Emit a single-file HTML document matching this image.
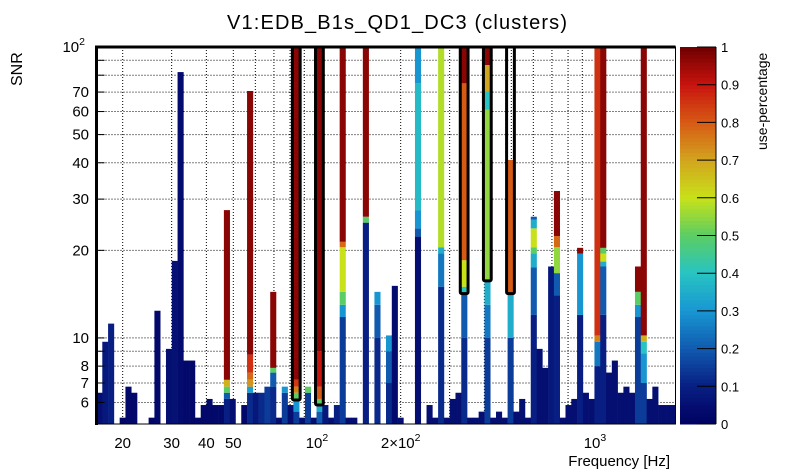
<!DOCTYPE html>
<html><head><meta charset="utf-8"><style>
html,body{margin:0;padding:0;background:#fff;}
svg{display:block;font-family:"Liberation Sans",Arial,sans-serif;}
</style></head><body>
<svg id="chart" width="805" height="472" viewBox="0 0 805 472" xmlns="http://www.w3.org/2000/svg">
<rect x="0" y="0" width="805" height="472" fill="#fff"/>
<text x="397" y="29" font-size="20" text-anchor="middle" textLength="340">V1:EDB_B1s_QD1_DC3 (clusters)</text>
<g id="grid"></g>
<g id="bars"></g>
<g id="boxes"></g>
<g id="axes"></g>
<text transform="translate(22,86) rotate(-90)" font-size="16" text-anchor="start">SNR</text>
<text x="670" y="466" font-size="15" text-anchor="end">Frequency [Hz]</text>
<g id="cbar"></g>
<text transform="translate(767,150) rotate(-90)" font-size="14" text-anchor="start">use-percentage</text>
</svg>
<script>
// ---- data ----
const freqMin = 16.1, freqMax = 1948, nBins = 100;
const snrMin = 5.06, snrMax = 100;
// per bin: stacked cells from bottom, [snrUpper, usePercentage]
const binSegs = [
[[6.48,.05]],[[9.7,.08]],[[11.2,.1]],[],[[5.32,.02]],[[6.8,.03]],[[6.48,.03]],[],[],[[5.32,.02]],
[[12.4,.03]],[],[[9.17,.05]],[[18.4,.06]],[[82,.04]],[[8.36,.03]],[[8.36,.03]],[[5.32,.03]],[[5.88,.03]],[[6.17,.03]],
[[5.88,.03]],[[5.88,.03]],[[6.17,.1],[6.48,.2],[6.8,.5],[7.18,.68],[27.5,.97]],[[6.17,.05]],[],[[5.88,.03]],
[[6.48,.12],[6.8,.32],[7.18,.72],[7.6,.78],[8.76,.86],[70.6,.97]],[[6.48,.08]],[[6.48,.12]],[[6.8,.15]],
[[6.8,.12],[7.6,.2],[7.89,.5],[14.4,.97]],[[5.32,.05]],[[6.48,.15],[6.8,.3]],[[5.88,.05]],
[[5.58,.15],[6.17,.3],[6.48,.5],[6.8,.75],[7.18,.85],[100,.97]],[[5.32,.05]],[[6.48,.15],[6.8,.5]],[[5.32,.05]],
[[5.58,.2],[5.88,.35],[6.17,.5],[6.8,.8],[9,.9],[100,.97]],[[5.88,.08]],
[[5.32,.05]],[[5.88,.1]],[[11.8,.15],[13.0,.3],[14.4,.5],[20.5,.6],[21.4,.78],[100,.97]],[[5.32,.05]],[[5.32,.05]],[],
[[24.9,.1],[26.1,.5],[100,.97]],[],[[10,.12],[13,.2],[14.4,.3]],[],
[[7,.12],[9,.2],[10.2,.3]],[[15.1,.04]],[[5.32,.05]],[],[],[[22.3,.05],[23.8,.2],[27.5,.3],[75,.38],[100,.3]],[],[[5.88,.05]],[[5.32,.05]],[[15,.12],[19.5,.25],[20.5,.35],[100,.58]],
[[5.32,.05]],[[6.17,.05]],[[6.48,.05]],[[10,.12],[14.2,.2],[15,.4],[18.5,.6],[75,.8],[100,.97]],[[5.32,.05]],[[5.32,.05]],[[5.58,.05]],
[[10,.15],[13,.25],[15.8,.35],[60.8,.55],[70.3,.4],[86.7,.7],[100,.97]],[[5.32,.05]],[[5.58,.05]],
[[5.32,.05]],[[10,.15],[14.2,.35],[40.9,.8]],[[5.58,.05]],[[6.17,.05]],[[5.32,.05]],
[[12,.1],[17.5,.2],[19.5,.35],[20.5,.5],[23.8,.6],[25.5,.35],[26.1,.2]],[[9.17,.05]],[[7.89,.05]],[[17.6,.08]],
[[14,.1],[16.7,.2],[20.5,.55],[22.4,.78],[32,.97]],
[[5.32,.05]],[[5.88,.05]],[[6.17,.05]],[[12,.1],[19.5,.3],[20.4,.97]],[[6.48,.05]],[[6.17,.05]],
[[8,.1],[9.7,.25],[10.2,.75],[100,.86]],[[12,.1],[17.6,.2],[18.3,.35],[19.5,.6],[20.4,.5],[100,.97]],
[[7.6,.05]],[[8.36,.05]],
[[6.48,.05]],[[6.8,.05]],[[6.48,.05]],[[11.8,.15],[13,.3],[14.4,.5],[17.6,.97]],
[[7,.15],[8.86,.3],[9.7,.4],[10.2,.68],[100,.97]],[[6.17,.05]],[[6.8,.05]],[[5.88,.05]],[[5.88,.05]],[[5.88,.05]]
];
const boxBins = [34, 38, 63, 67, 71];
const boxBottoms = [6.12, 5.88, 14.2, 15.7, 14.2];
const xGridVals = [20,30,40,50,60,70,80,90,100,200,300,400,500,600,700,800,900,1000];
const xLabelVals = [20,30,40,50,100,200,1000];
const xLabelText = ["20","30","40","50","10|2","2×10|2","10|3"];
const yGridVals = [6,7,8,9,10,20,30,40,50,60,70,80,90];
const yLabelVals = [6,7,8,10,20,30,40,50,60,70,100];
const yLabelText = ["6","7","8","10","20","30","40","50","60","70","10|2"];
const cbarTicks = [0,0.1,0.2,0.3,0.4,0.5,0.6,0.7,0.8,0.9,1];
const cbarLabels = ["0","0.1","0.2","0.3","0.4","0.5","0.6","0.7","0.8","0.9","1"];

// ---- geometry ----
const X0 = 96.5, X1 = 675.5, Y0 = 47, Y1 = 424;
const NS = "http://www.w3.org/2000/svg";
const lx0 = Math.log10(freqMin), lx1 = Math.log10(freqMax);
const ly0 = Math.log10(snrMin), ly1 = Math.log10(snrMax);
function xScale(f){ return X0 + (Math.log10(f)-lx0)/(lx1-lx0)*(X1-X0); }
function yScale(v){ return Y1 - (Math.log10(v)-ly0)/(ly1-ly0)*(Y1-Y0); }
function binX(k){ return xScale(Math.pow(10, lx0 + k*(lx1-lx0)/nBins)); }
const cmap = [[0,[0,0,96]],[0.1,[8,30,130]],[0.2,[16,90,175]],[0.3,[24,150,210]],[0.4,[40,195,195]],[0.5,[90,205,100]],[0.6,[200,225,25]],[0.7,[210,165,30]],[0.8,[215,90,20]],[0.9,[200,20,15]],[1,[112,0,0]]];
function color(u){
  for(let i=1;i<cmap.length;i++){ if(u<=cmap[i][0]){ const a=cmap[i-1],b=cmap[i],t=(u-a[0])/(b[0]-a[0]);
    return 'rgb('+a[1].map((c,j)=>Math.round(c+(b[1][j]-c)*t)).join(',')+')'; } }
  return 'rgb(112,0,0)';
}
function mk(tag, attrs, parent){ const e=document.createElementNS(NS,tag); for(const k in attrs) e.setAttribute(k,attrs[k]); parent.appendChild(e); return e; }
function supText(parent, x, y, str, anchor, size){
  const t = mk('text',{x:x,y:y,'font-size':size,'text-anchor':anchor},parent);
  const p = str.split('|');
  t.appendChild(document.createTextNode(p[0]));
  if(p[1]){ const s=mk('tspan',{dy:-7,'font-size':size*0.7},t); s.textContent=p[1]; }
  return t;
}

// grid
const grid = document.getElementById('grid');
xGridVals.forEach(f=>{ const x=xScale(f);
  const l=mk('line',{x1:x,x2:x,y1:Y0,y2:Y1,stroke:'#000','stroke-width':1,'stroke-dasharray':'1,2'},grid);
  
   });
yGridVals.forEach(v=>{ const y=yScale(v);
  const l=mk('line',{x1:X0,x2:X1,y1:y,y2:y,stroke:'#000','stroke-width':1,'stroke-dasharray':'1,2'},grid);
  
   });

// bars
const bars = document.getElementById('bars');
binSegs.forEach((segs,k)=>{
  if(!segs.length) return;
  const g = mk('g',{},bars);
  
  
  const xa = binX(k), xb = binX(k+1);
  let lo = snrMin;
  segs.forEach(s=>{
    const ya = yScale(Math.min(s[0],snrMax)), yb = yScale(lo);
    const r = mk('rect',{x:xa,y:ya,width:xb-xa+0.3,height:Math.max(0,yb-ya),fill:color(s[1])},g);
    
    
    lo = s[0];
  });
});

// boxes
const boxes = document.getElementById('boxes');
boxBins.forEach((k,i)=>{
  const xa = binX(k)-1, xb = binX(k+1)+1;
  const ya = yScale(snrMax), yb = yScale(boxBottoms[i]);
  const r = mk('rect',{x:xa,y:ya,width:xb-xa,height:yb-ya,fill:'none',stroke:'#000','stroke-width':3,rx:1.5},boxes);
  
  
});

// axes
const axes = document.getElementById('axes');
mk('rect',{x:X0,y:Y0,width:X1-X0,height:Y1-Y0,fill:'none',stroke:'#000','stroke-width':1},axes);
mk('line',{x1:X0,x2:X1,y1:Y0,y2:Y0,stroke:'#000','stroke-width':3},axes);
mk('line',{x1:X0,x2:X0,y1:Y0-1.5,y2:Y1+1,stroke:'#000','stroke-width':3},axes);
yGridVals.concat([100]).forEach(v=>{ const y=yScale(v); mk('line',{x1:X0,x2:X0+8,y1:y,y2:y,stroke:'#000'},axes); });
xLabelVals.forEach((f,i)=>{
  const t = supText(axes, xScale(f), 448, xLabelText[i], 'middle', 15);
  
  
});
yLabelVals.forEach((v,i)=>{
  const t = supText(axes, v===100?85:89, yScale(v)+5, yLabelText[i], 'end', 15);
  
  
});

// color bar
const cb = document.getElementById('cbar');
const CX0=680, CX1=716;
for(let i=0;i<100;i++){
  const u0=i/100, ya=Y1-(i+1)/100*(Y1-Y0), yb=Y1-i/100*(Y1-Y0);
  mk('rect',{x:CX0,y:ya,width:CX1-CX0,height:yb-ya+0.5,fill:color(u0+0.005)},cb);
}
mk('line',{x1:CX1,x2:CX1,y1:Y0,y2:Y1,stroke:'#000'},cb);
cbarTicks.forEach((u,i)=>{
  const y = Y1-u*(Y1-Y0);
  mk('line',{x1:CX1-19,x2:CX1,y1:y,y2:y,stroke:'#000'},cb);
  const t = mk('text',{x:CX1+5,y:y+5,'font-size':13},cb);
  t.textContent = cbarLabels[i];
  
  
});
</script>
</body></html>
